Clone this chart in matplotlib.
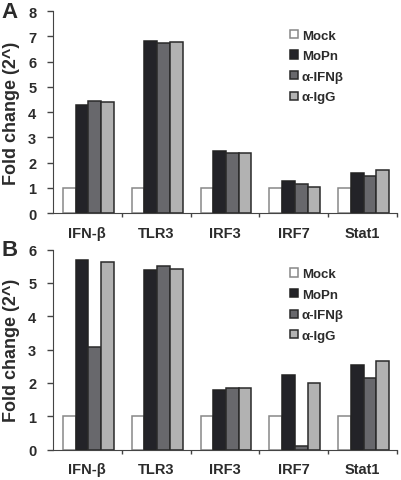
import matplotlib
matplotlib.use("Agg")
import matplotlib.pyplot as plt
import numpy as np

plt.rcParams['font.family'] = ['Liberation Sans', 'DejaVu Sans']
plt.rcParams['font.weight'] = 'bold'

genes = ['IFN-β', 'TLR3', 'IRF3', 'IRF7', 'Stat1']
series = ['Mock', 'MoPn', 'α-IFNβ', 'α-IgG']

# panel A values
a_mock = [1, 1, 1, 1, 1]
a_mopn = [4.27, 6.8, 2.47, 1.26, 1.59]
a_ifnb = [4.45, 6.73, 2.38, 1.14, 1.48]
a_igg = [4.38, 6.77, 2.38, 1.02, 1.69]

# panel B values
b_mock = [1, 1, 1, 1, 1]
b_mopn = [5.7, 5.4, 1.78, 2.24, 2.55]
b_ifnb = [3.09, 5.5, 1.84, 0.1, 2.16]
b_igg = [5.62, 5.41, 1.86, 2.01, 2.65]

colors = ['white', '#232328', '#68686c', '#b2b2b2']
edges = ['#888888', '#222222', '#2a2a2a', '#2a2a2a']
txt = '#2b2b2b'


def panel(ax, data, ymax, letter):
    x = np.arange(len(genes))
    w = 0.185
    for j, vals in enumerate(data):
        ax.bar(x + (j - 1.5) * w + 0.015, vals, w, color=colors[j],
               edgecolor=edges[j], linewidth=1.1, label=series[j])
    ax.set_xlim(-0.5, 4.5)
    ax.set_ylim(0, ymax)
    ax.set_yticks(range(ymax + 1))
    ax.set_xticks(x)
    ax.set_xticklabels(genes, fontsize=10.5, fontweight='bold', color=txt)
    # small ticks between the gene groups
    ax.set_xticks(np.arange(0.5, 5, 1), minor=True)
    ax.tick_params(axis='x', which='major', length=0, pad=9)
    ax.tick_params(axis='x', which='minor', length=3, width=1, color='#444444')
    ax.tick_params(axis='y', length=4, width=1, color='#444444',
                   labelsize=10.5, labelcolor=txt, pad=8)
    for t in ax.get_yticklabels():
        t.set_fontweight('bold')
    ax.spines['top'].set_visible(False)
    ax.spines['right'].set_visible(False)
    ax.spines['left'].set_color('#444444')
    ax.spines['bottom'].set_color('#444444')
    ax.set_ylabel('Fold change (2^)', fontsize=13, fontweight='bold',
                  color=txt, labelpad=6)
    ax.legend(loc='upper left', bbox_to_anchor=(0.67, 0.94), frameon=False,
              prop={'size': 9.5, 'weight': 'bold'}, handlelength=0.6,
              handleheight=0.6, handletextpad=0.3, labelspacing=0.65,
              borderpad=0, labelcolor=txt)
    ax.text(-0.125, 1.0, letter, transform=ax.transAxes, fontsize=16,
            fontweight='bold', color=txt, ha='center', va='center')


fig = plt.figure(figsize=(4.01, 4.81), dpi=100)
ax1 = fig.add_axes([0.132, 0.555, 0.858, 0.42])
ax2 = fig.add_axes([0.132, 0.063, 0.858, 0.416])

panel(ax1, [a_mock, a_mopn, a_ifnb, a_igg], 8, 'A')
panel(ax2, [b_mock, b_mopn, b_ifnb, b_igg], 6, 'B')

fig.savefig('out.png', dpi=100)
